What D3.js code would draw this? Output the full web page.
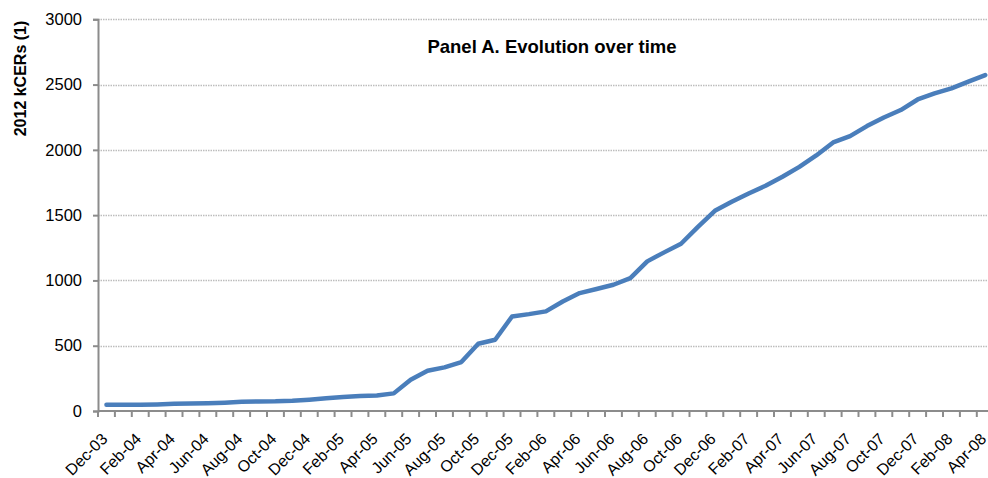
<!DOCTYPE html>
<html>
<head>
<meta charset="utf-8">
<script src="https://cdn.jsdelivr.net/npm/d3@7"></script>
<style>
  body { margin: 0; background: #fff; }
  svg { display: block; font-family: "Liberation Sans", Arial, sans-serif; }
</style>
</head>
<body>
<svg id="chart" width="988" height="478"></svg>
<script>
const months = ["Dec-03","Jan-04","Feb-04","Mar-04","Apr-04","May-04","Jun-04","Jul-04","Aug-04","Sep-04","Oct-04","Nov-04",
  "Dec-04","Jan-05","Feb-05","Mar-05","Apr-05","May-05","Jun-05","Jul-05","Aug-05","Sep-05","Oct-05","Nov-05",
  "Dec-05","Jan-06","Feb-06","Mar-06","Apr-06","May-06","Jun-06","Jul-06","Aug-06","Sep-06","Oct-06","Nov-06",
  "Dec-06","Jan-07","Feb-07","Mar-07","Apr-07","May-07","Jun-07","Jul-07","Aug-07","Sep-07","Oct-07","Nov-07",
  "Dec-07","Jan-08","Feb-08","Mar-08","Apr-08"];
const kcers = [48,48,47,50,55,58,60,64,70,73,74,78,
  87,98,108,115,119,135,240,308,334,375,515,546,
  724,742,763,839,903,934,967,1018,1146,1215,1281,1410,
  1533,1602,1666,1725,1794,1870,1957,2057,2105,2182,2248,2305,
  2386,2432,2471,2522,2573];
const yTicks = [0,500,1000,1500,2000,2500,3000];
const title = "Panel A. Evolution over time";
const yTitle = "2012 kCERs (1)";

const svg = d3.select("#chart");
const mLeft = 98, mTop = 19.3, mBottom = 411, mRight = 98 + 53 * 16.9;

const x = d3.scaleBand().domain(months).range([mLeft, mRight]).padding(0);
const y = d3.scaleLinear().domain([0, 3000]).range([mBottom, mTop]);

// gridlines
svg.append("g").selectAll("line").data(yTicks.filter(d => d > 0)).join("line")
  .attr("x1", mLeft).attr("x2", mRight)
  .attr("y1", d => Math.round(y(d)) + 0.5).attr("y2", d => Math.round(y(d)) + 0.5)
  .attr("stroke", "#bdbdbd").attr("stroke-width", 1.3).attr("stroke-dasharray", "1.5,1");

// y axis
const yAxis = d3.axisLeft(y).tickValues(yTicks).tickSize(5).tickPadding(11).tickFormat(d3.format("d"));
const gy = svg.append("g").attr("transform", `translate(${mLeft},0)`).call(yAxis);
gy.select(".domain").attr("stroke", "#8c8c8c").attr("stroke-width", 2);
gy.selectAll(".tick line").attr("stroke", "#8c8c8c").attr("stroke-width", 2);
gy.selectAll(".tick text").attr("font-size", 16.5).attr("fill", "#000").attr("font-family", "Liberation Sans, Arial, sans-serif");

// x axis with ticks at category boundaries
const gx = svg.append("g");
gx.append("line").attr("x1", mLeft).attr("x2", mRight).attr("y1", mBottom).attr("y2", mBottom)
  .attr("stroke", "#8c8c8c").attr("stroke-width", 2);
gx.selectAll("line.tk").data(d3.range(months.length + 1)).join("line").attr("class", "tk")
  .attr("x1", i => mLeft + i * x.bandwidth()).attr("x2", i => mLeft + i * x.bandwidth())
  .attr("y1", mBottom).attr("y2", mBottom + 6)
  .attr("stroke", "#8c8c8c").attr("stroke-width", 2);
gx.selectAll("text").data(months.filter((d, i) => i % 2 === 0)).join("text")
  .attr("transform", d => `translate(${x(d) + x.bandwidth() / 2 + 2},${mBottom + 29}) rotate(-45)`)
  .attr("text-anchor", "end").attr("font-size", 16).attr("fill", "#000")
  .text(d => d);

// line
const line = d3.line().x((d, i) => x(months[i]) + x.bandwidth() / 2).y(d => y(d));
svg.append("path").datum(kcers).attr("d", line)
  .attr("fill", "none").attr("stroke", "#4a7ebb").attr("stroke-width", 4.5)
  .attr("stroke-linejoin", "round").attr("stroke-linecap", "round");

// titles
svg.append("text").attr("x", 552).attr("y", 53).attr("text-anchor", "middle")
  .attr("font-size", 18.5).attr("font-weight", "bold").attr("fill", "#000").text(title);
svg.append("text").attr("transform", "translate(26,78.5) rotate(-90)").attr("text-anchor", "middle")
  .attr("font-size", 16).attr("font-weight", "bold").attr("fill", "#000").text(yTitle);
</script>
</body>
</html>
